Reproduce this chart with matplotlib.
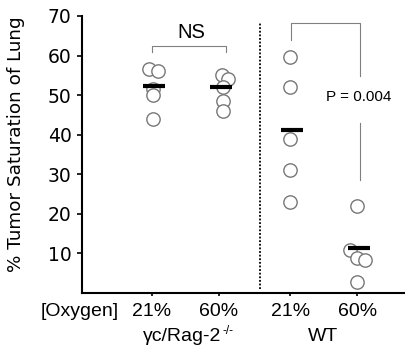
import matplotlib
matplotlib.use("Agg")
import matplotlib.pyplot as plt

plt.rcParams['font.family'] = ['Liberation Sans', 'DejaVu Sans']

# ---- data ----
conditions = ["21%", "60%", "21%", "60%"]
group_names = ["γc/Rag-2", "WT"]
group_sup = ["-/-", ""]
rag_21 = [56.5, 56.0, 51.6, 50.1, 44.0]
rag_60 = [55.1, 54.1, 52.0, 48.4, 46.1]
wt_21 = [59.7, 52.0, 38.8, 31.0, 23.0]
wt_60 = [22.0, 10.8, 8.8, 8.4, 2.8]
means = [52.3, 52.1, 41.3, 11.4]
yticks = [10, 20, 30, 40, 50, 60, 70]
p_text = "P = 0.004"
ns_text = "NS"

# ---- layout ----
positions = [1.0, 2.0, 3.06, 4.06]
jitter = [
    [-0.04, 0.085, 0.02, 0.02, 0.02],
    [0.04, 0.14, 0.055, 0.055, 0.055],
    [0.0, 0.0, 0.0, 0.0, 0.0],
    [0.0, -0.11, 0.0, 0.12, 0.0],
]
series = [rag_21, rag_60, wt_21, wt_60]

W, H = 406, 351
fig = plt.figure(figsize=(W / 100, H / 100), dpi=100)
ax = fig.add_axes([82 / W, 1 - 293 / H, (406 - 82) / W, 277 / H])

ax.set_xlim(-0.045, 4.79)
ax.set_ylim(0, 70)

grey = '#777777'
for pos, vals, jit in zip(positions, series, jitter):
    for v, j in zip(vals, jit):
        ax.plot(pos + j, v, 'o', ms=9.6, mfc='white', mec=grey, mew=1.0, zorder=3)

for pos, m in zip(positions, means):
    ax.plot([pos + 0.03 - 0.165, pos + 0.03 + 0.165], [m, m], color='black',
            lw=3.0, solid_capstyle='butt', zorder=4)

# separator
ax.plot([2.61, 2.61], [1.1, 68.3], color='black', lw=1.3, ls=(0, (1, 1)), zorder=2)

# NS bracket
bc = '#808080'
ax.plot([1.005, 1.005, 2.1, 2.1], [60.9, 62.3, 62.3, 60.9], color=bc, lw=0.8)
ax.text(1.58, 65.9, ns_text, ha='center', va='center', fontsize=14.5)

# WT bracket
ax.plot([3.075, 3.075, 4.105, 4.105], [64.0, 68.3, 68.3, 54.9], color=bc, lw=0.8)
ax.plot([4.105, 4.105], [43.0, 28.6], color=bc, lw=0.8)
ax.text(4.08, 49.6, p_text, ha='center', va='center', fontsize=11)

for s in ['top', 'right']:
    ax.spines[s].set_visible(False)
for s in ['left', 'bottom']:
    ax.spines[s].set_linewidth(1.5)

ax.set_yticks(yticks)
ax.set_yticklabels([str(t) for t in yticks], fontsize=13.5, family='DejaVu Sans')
ax.set_xticks(positions)
ax.set_xticklabels(conditions, fontsize=14)
ax.tick_params(axis='y', length=3.5, width=1.2, pad=4.0)
ax.tick_params(axis='x', length=2.5, width=1.2, pad=5)

ax.set_ylabel("% Tumor Saturation of Lung", fontsize=13.2, family='DejaVu Sans')
ax.yaxis.set_label_coords(-0.176, 0.538)

fig.text(80 / W, 1 - 311.7 / H, "[Oxygen]", ha='center', va='center', fontsize=14)

# group labels with superscript
fig.canvas.draw()
renderer = fig.canvas.get_renderer()
centers = [188, 323]
for name, sup, cx in zip(group_names, group_sup, centers):
    t = fig.text(0, 1 - 336.7 / H, name, ha='left', va='center', fontsize=14)
    w_main = t.get_window_extent(renderer).width
    w_sup = 0
    s = None
    if sup:
        s = fig.text(0, 1 - 331.5 / H, sup, ha='left', va='center', fontsize=8.5)
        w_sup = s.get_window_extent(renderer).width + 1
    x0 = cx - (w_main + w_sup) / 2
    t.set_x(x0 / W)
    if s is not None:
        s.set_x((x0 + w_main + 1) / W)

fig.savefig("out.png", dpi=100)
